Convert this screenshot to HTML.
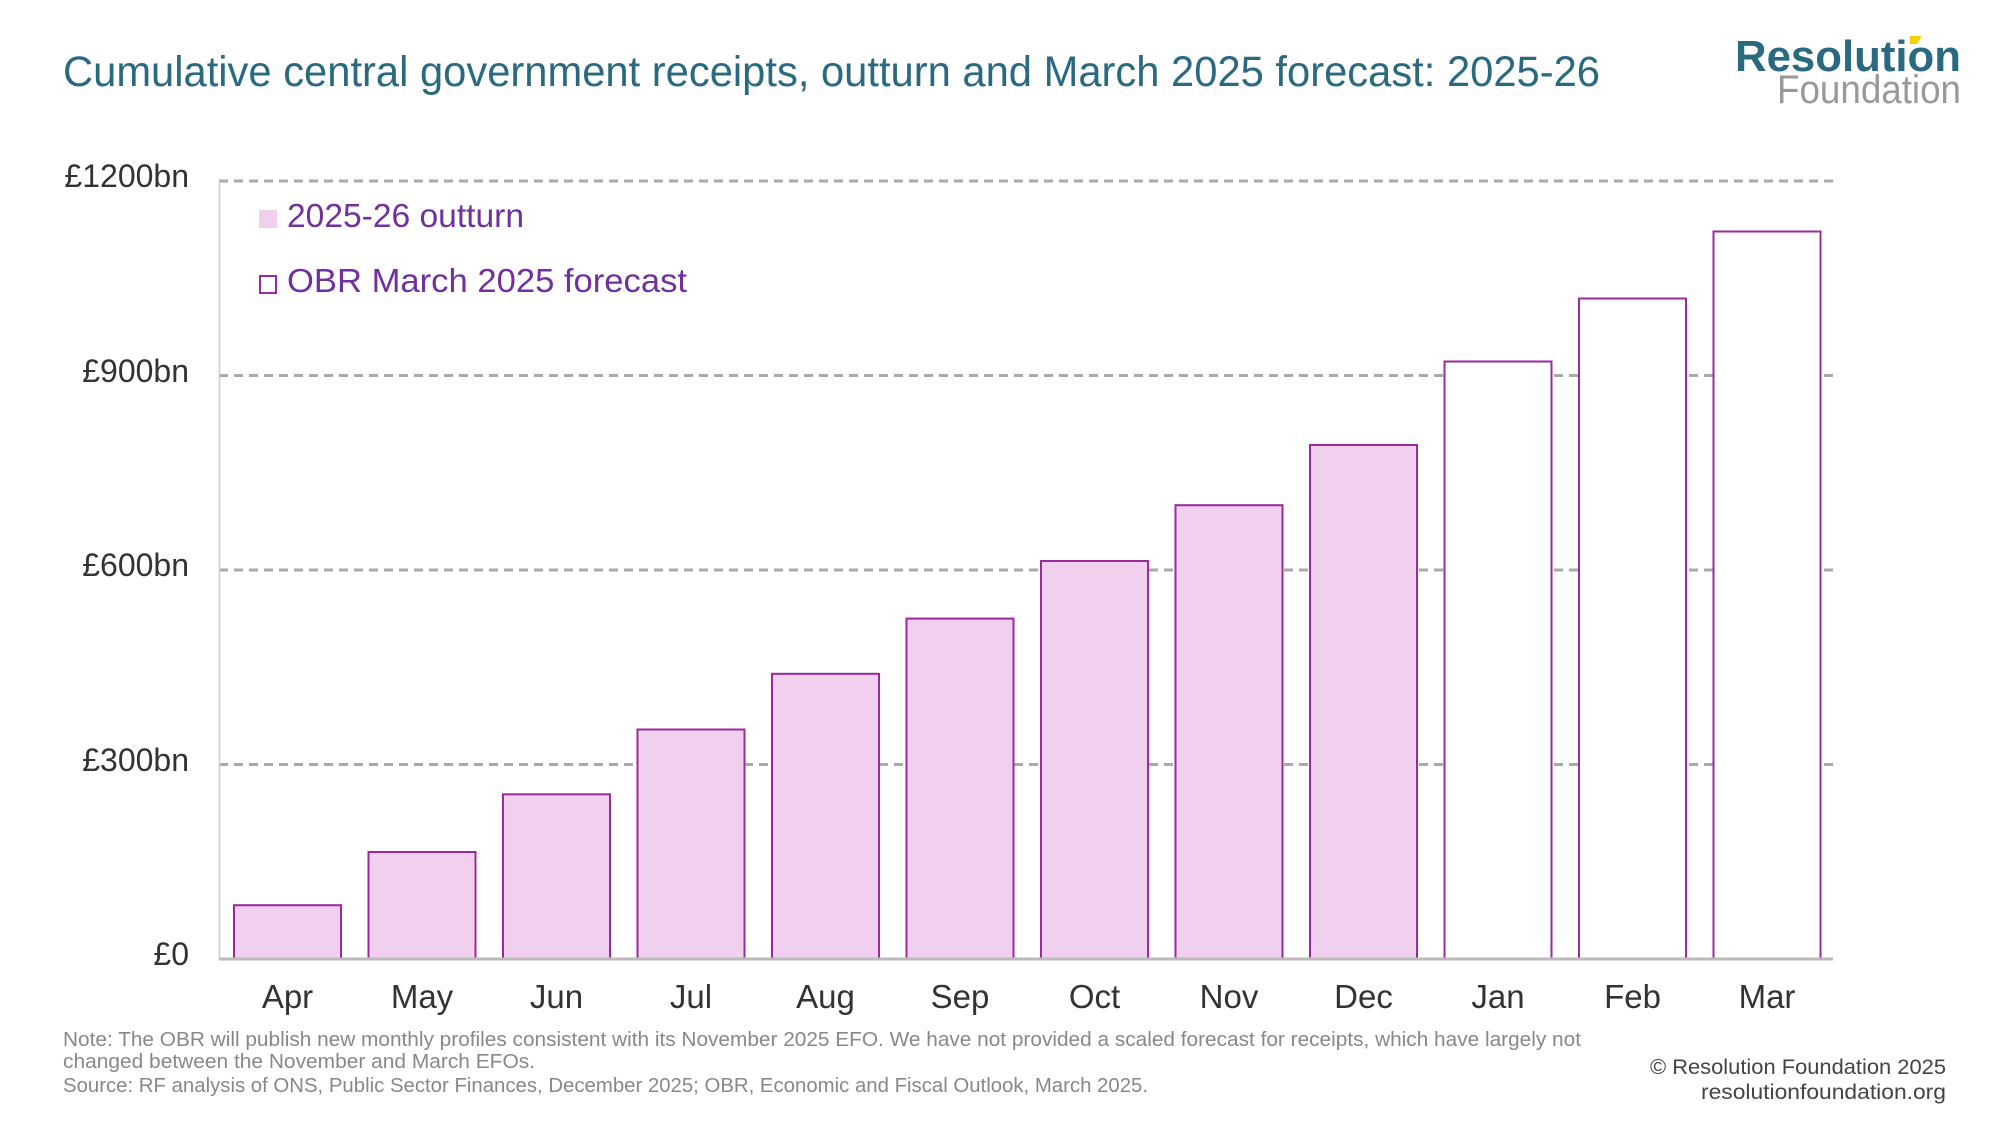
<!DOCTYPE html>
<html><head><meta charset="utf-8"><style>html,body{margin:0;padding:0;background:#fff}svg{display:block}</style></head>
<body>
<svg width="2000" height="1125" viewBox="0 0 2000 1125" xmlns="http://www.w3.org/2000/svg" font-family="Liberation Sans, sans-serif">
<text x="63" y="86" font-size="43" fill="#2a6a80" textLength="1537" lengthAdjust="spacingAndGlyphs">Cumulative central government receipts, outturn and March 2025 forecast: 2025-26</text>
<text x="1735" y="71" font-size="44" font-weight="bold" fill="#2a6a80" textLength="226" lengthAdjust="spacingAndGlyphs">Resolution</text>
<polygon points="1910,36 1922,36 1917,44 1910,44" fill="#f5d000"/>
<text x="1777" y="103" font-size="40" fill="#999" textLength="184" lengthAdjust="spacingAndGlyphs">Foundation</text>
<g stroke="#aaa" stroke-width="3" stroke-dasharray="9 6">
<line x1="219" y1="181" x2="1833" y2="181"/>
<line x1="219" y1="375.5" x2="1833" y2="375.5"/>
<line x1="219" y1="570" x2="1833" y2="570"/>
<line x1="219" y1="764.5" x2="1833" y2="764.5"/>
</g>
<line x1="219.5" y1="181" x2="219.5" y2="959" stroke="#ccc" stroke-width="1.5"/>
<g font-size="32" fill="#333" text-anchor="end">
<text x="189" y="187">£1200bn</text>
<text x="189" y="382">£900bn</text>
<text x="189" y="576">£600bn</text>
<text x="189" y="771">£300bn</text>
<text x="189" y="965">£0</text>
</g>
<g fill="#f0d0ee" stroke="#9b2a9b" stroke-width="2">
<rect x="234" y="905.2" width="107" height="53.8"/>
<rect x="368.5" y="852" width="107" height="107"/>
<rect x="503" y="794.3" width="107" height="164.7"/>
<rect x="637.5" y="729.5" width="107" height="229.5"/>
<rect x="772" y="673.8" width="107" height="285.2"/>
<rect x="906.5" y="618.6" width="107" height="340.4"/>
<rect x="1041" y="561" width="107" height="398"/>
<rect x="1175.5" y="505.2" width="107" height="453.8"/>
<rect x="1310" y="445" width="107" height="514"/>
</g>
<g fill="#fff" stroke="#9b2a9b" stroke-width="2">
<rect x="1444.5" y="361.5" width="107" height="597.5"/>
<rect x="1579" y="298.5" width="107" height="660.5"/>
<rect x="1713.5" y="231.5" width="107" height="727.5"/>
</g>
<line x1="219" y1="959" x2="1833" y2="959" stroke="#bbb" stroke-width="3"/>
<g font-size="33" fill="#333" text-anchor="middle">
<text x="287.5" y="1008">Apr</text><text x="422" y="1008">May</text><text x="556.5" y="1008">Jun</text>
<text x="691" y="1008">Jul</text><text x="825.5" y="1008">Aug</text><text x="960" y="1008">Sep</text>
<text x="1094.5" y="1008">Oct</text><text x="1229" y="1008">Nov</text><text x="1363.5" y="1008">Dec</text>
<text x="1498" y="1008">Jan</text><text x="1632.5" y="1008">Feb</text><text x="1767" y="1008">Mar</text>
</g>
<rect x="259" y="210" width="18" height="18" fill="#f0d0ee"/>
<text x="287" y="227" font-size="33" fill="#7030a0" textLength="237" lengthAdjust="spacingAndGlyphs">2025-26 outturn</text>
<rect x="260" y="276" width="16" height="17" fill="none" stroke="#9b2a9b" stroke-width="2"/>
<text x="287" y="292" font-size="33" fill="#7030a0" textLength="400" lengthAdjust="spacingAndGlyphs">OBR March 2025 forecast</text>
<g font-size="20" fill="#888">
<text x="63" y="1046" textLength="1518" lengthAdjust="spacingAndGlyphs">Note: The OBR will publish new monthly profiles consistent with its November 2025 EFO. We have not provided a scaled forecast for receipts, which have largely not</text>
<text x="63" y="1068" textLength="472" lengthAdjust="spacingAndGlyphs">changed between the November and March EFOs.</text>
<text x="63" y="1092" textLength="1085" lengthAdjust="spacingAndGlyphs">Source: RF analysis of ONS, Public Sector Finances, December 2025; OBR, Economic and Fiscal Outlook, March 2025.</text>
</g>
<g font-size="21" fill="#444" text-anchor="end">
<text x="1946" y="1074" textLength="296" lengthAdjust="spacingAndGlyphs">© Resolution Foundation 2025</text>
<text x="1946" y="1099" textLength="245" lengthAdjust="spacingAndGlyphs">resolutionfoundation.org</text>
</g>
</svg>
</body></html>
